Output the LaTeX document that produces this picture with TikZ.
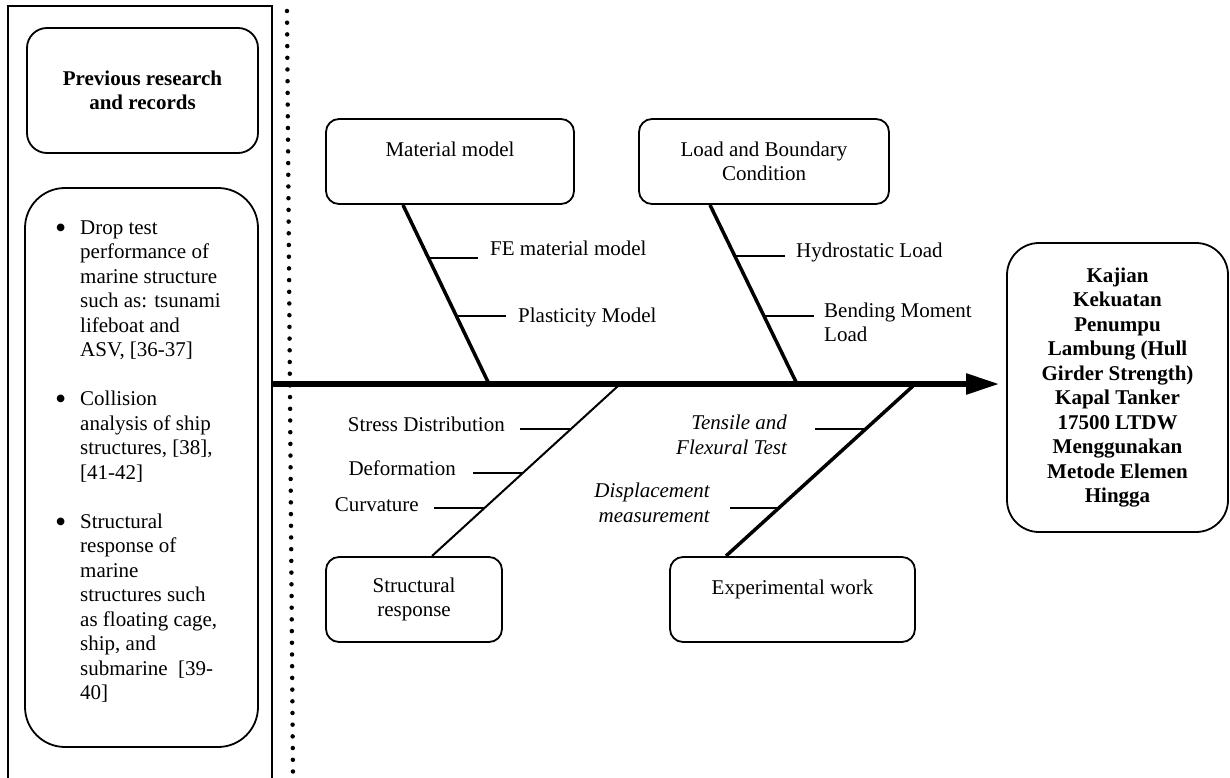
\documentclass[tikz,border=0pt]{standalone}
\usepackage{fontspec}
\setmainfont{Liberation Serif}
\usetikzlibrary{arrows.meta,calc}
\newcommand{\fishfont}{\fontsize{21}{24.5}\selectfont}
\newcommand{\bigdot}{\raisebox{-4pt}{\fontsize{32}{24.5}\selectfont\textbullet}}

\begin{document}
\begin{tikzpicture}[x=1pt,y=-1pt,
    every node/.style={font=\fishfont},
    box/.style={draw,line width=1.8pt,rounded corners=13pt,align=center,inner sep=0pt},
    cause/.style={inner sep=0pt},
    spine/.style={line width=5.5pt,-{Triangle[length=33pt,width=20pt]}},
    bone/.style={line width=3.5pt},
    thinbone/.style={line width=2pt},
    twig/.style={line width=1.8pt},
    dotsep/.style={line width=4.5pt,line cap=round,dash pattern=on 0pt off 11.7pt}]
    \useasboundingbox (0,0) rectangle (1230,778);

    % left column
    \draw[line width=1.5pt] (8,778) -- (8,6) -- (272,6) -- (272,778);
    \coordinate (dt0) at (287,11);
    \coordinate (dt1) at (293,778);
    \draw[dotsep] (dt0) -- (dt1);
    \node[box,rounded corners=20pt,minimum width=231pt,minimum height=125pt,font=\fishfont\bfseries] (prev) at (142.5,90.5) {Previous research\\and records};
    \node[box,rounded corners=40pt,minimum width=233pt,minimum height=559pt] (list) at (141.5,467.5) {};
    \node[cause,anchor=base west,align=left] (items) at (55,234) {%
      \begin{tabular}[t]{@{}p{25pt}@{}l@{}}
        \bigdot & Drop test\\
         & performance of\\
         & marine structure\\
         & such as: tsunami\\
         & lifeboat and\\
         & ASV, [36-37]\\[24.5pt]
        \bigdot & Collision\\
         & analysis of ship\\
         & structures, [38],\\
         & [41-42]\\[24.5pt]
        \bigdot & Structural\\
         & response of\\
         & marine\\
         & structures such\\
         & as floating cage,\\
         & ship, and\\
         & submarine\ \ [39-\\
         & 40]
      \end{tabular}};

    % cause boxes and effect
    \node[box,minimum width=248pt,minimum height=85pt] (mat) at (450,161.5) {Material model\\\mbox{}};
    \node[box,minimum width=250pt,minimum height=85pt] (load) at (764,161.5) {Load and Boundary\\Condition};
    \node[box,minimum width=176pt,minimum height=85pt] (strc) at (414,599.5) {Structural\\response};
    \node[box,minimum width=245pt,minimum height=85pt] (expw) at (792.5,599.5) {Experimental work\\\mbox{}};
    \node[box,rounded corners=32pt,minimum width=221pt,minimum height=289pt,font=\fishfont\bfseries] (res) at (1117.5,387.5)
      {Kajian\\Kekuatan\\Penumpu\\Lambung (Hull\\Girder Strength)\\Kapal Tanker\\17500 LTDW\\Menggunakan\\Metode Elemen\\Hingga};

    % spine
    \coordinate (sp0) at (272,384);
    \draw[spine] (sp0) -- ([xshift=-7pt]sp0 -| res.west);

    % bones
    \coordinate (m0) at (403,205);
    \coordinate (m1) at (489,384);
    \coordinate (l0) at (710,205);
    \coordinate (l1) at (797,384);
    \coordinate (s0) at (618,386);
    \coordinate (s1) at (432,556);
    \coordinate (e0) at (913,386);
    \coordinate (e1) at (726,556);
    \draw[bone] (m0) -- (m1);
    \draw[bone] (l0) -- (l1);
    \draw[thinbone] (s0) -- (s1);
    \draw[bone] (e0) -- (e1);
    \path (m0) -- (m1) coordinate[pos=.296] (m2) coordinate[pos=.62] (m3);
    \path (l0) -- (l1) coordinate[pos=.285] (l2) coordinate[pos=.62] (l3);
    \path (s0) -- (s1) coordinate[pos=.253] (s2) coordinate[pos=.512] (s3) coordinate[pos=.718] (s4);
    \path (e0) -- (e1) coordinate[pos=.253] (e2) coordinate[pos=.718] (e3);

    % sub causes
    \draw[twig] (m2) -- ++(50,0);
    \draw[twig] (m3) -- ++(50,0);
    \draw[twig] (l2) -- ++(50,0);
    \draw[twig] (l3) -- ++(50,0);
    \draw[twig] (s2) -- ++(-51,0);
    \draw[twig] (s3) -- ++(-50,0);
    \draw[twig] (s4) -- ++(-50,0);
    \draw[twig] (e2) -- ++(-51,0);
    \draw[twig] (e3) -- ++(-49,0);
    \node[cause,anchor=west] (fe) at (490,248) {FE material model};
    \node[cause,anchor=west] (plast) at (518,317) {Plasticity Model};
    \node[cause,anchor=west] (hydro) at (796,252) {Hydrostatic Load};
    \node[cause,anchor=west,align=left] (bend) at (824,322.5) {Bending Moment\\Load};
    \node[cause,anchor=east] (stress) at (505,424) {Stress Distribution};
    \node[cause,anchor=east] (deform) at (456,468) {Deformation};
    \node[cause,anchor=east] (curv) at (419,505) {Curvature};
    \node[cause,anchor=east,align=right,font=\fishfont\itshape] (tensile) at (787,435) {Tensile and\\Flexural Test};
    \node[cause,anchor=east,align=right,font=\fishfont\itshape] (displ) at (710,503) {Displacement\\measurement};
\end{tikzpicture}
\end{document}
